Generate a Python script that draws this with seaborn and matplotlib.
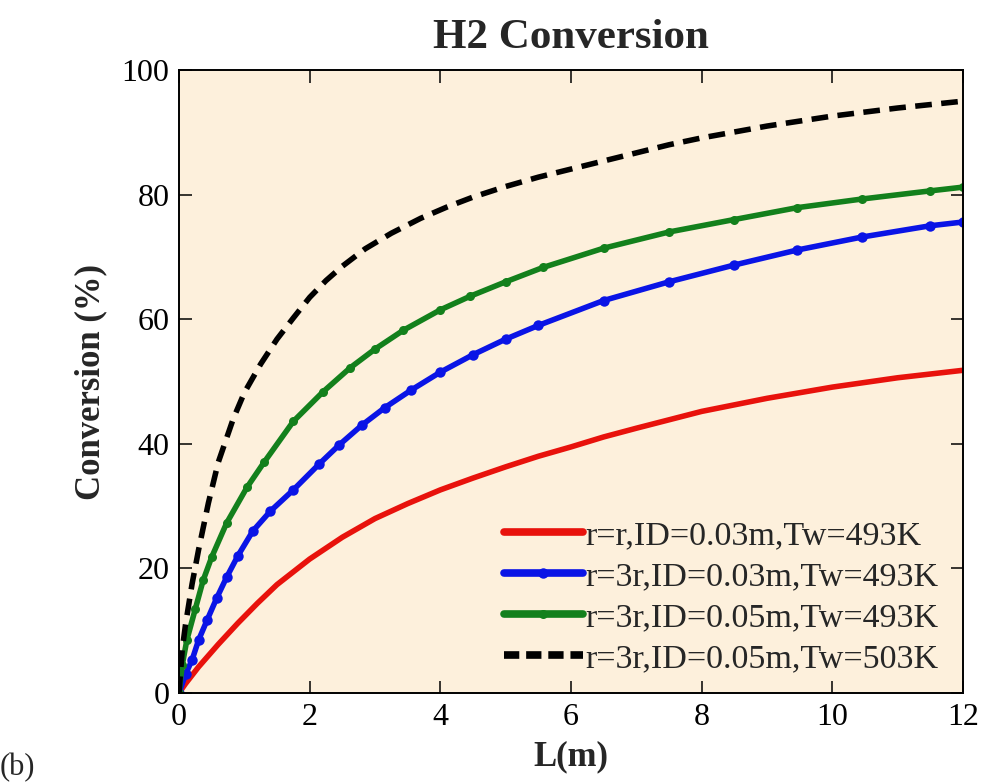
import numpy as np
import pandas as pd
import matplotlib
matplotlib.use("Agg")
import matplotlib.pyplot as plt
import seaborn as sns

# Reactor length (m) and H2 conversion (%) for each case
L_red = [0, 0.1, 0.3, 0.6, 0.9, 1.2, 1.5, 2.0, 2.5, 3.0, 3.5, 4.0, 4.5, 5.0,
         5.5, 6.0, 6.5, 7.0, 8.0, 9.0, 10.0, 11.0, 12.0]
X_red = [0, 1.5, 4.2, 7.8, 11.2, 14.4, 17.4, 21.5, 25.0, 28.0, 30.4, 32.6, 34.5, 36.3,
         38.0, 39.5, 41.1, 42.5, 45.2, 47.3, 49.1, 50.6, 51.8]

L_blue = [0, 0.1, 0.2, 0.3, 0.43, 0.58, 0.73, 0.9, 1.13, 1.4, 1.75, 2.15, 2.45,
          2.8, 3.15, 3.55, 4.0, 4.5, 5.0, 5.5, 6.5, 7.5, 8.5, 9.46, 10.46, 11.5, 12.0]
X_blue = [0, 3.0, 5.3, 8.5, 11.7, 15.3, 18.6, 22.0, 26.0, 29.2, 32.6, 36.8, 39.8,
          43.0, 45.8, 48.6, 51.5, 54.3, 56.8, 59.0, 63.0, 66.0, 68.7, 71.1, 73.2, 75.0, 75.6]

L_green = [0, 0.05, 0.12, 0.25, 0.37, 0.5, 0.73, 1.04, 1.3, 1.75, 2.2, 2.62, 3.0,
           3.43, 4.0, 4.46, 5.0, 5.57, 6.5, 7.5, 8.5, 9.46, 10.46, 11.5, 12.0]
X_green = [0, 4.5, 8.5, 13.5, 18.1, 21.8, 27.3, 33.0, 37.0, 43.6, 48.3, 52.2, 55.2,
           58.2, 61.5, 63.7, 66.0, 68.3, 71.4, 74.0, 76.0, 77.9, 79.3, 80.6, 81.2]

L_black = [0, 0.05, 0.1, 0.2, 0.3, 0.45, 0.6, 0.83, 1.0, 1.25, 1.5, 1.75, 2.0,
           2.25, 2.5, 2.85, 3.25, 3.7, 4.1, 4.5, 5.0, 5.5, 6.0, 6.5, 7.0, 7.5,
           8.0, 9.0, 10.0, 11.0, 12.0]
X_black = [0, 7.0, 11.0, 17.5, 23.0, 30.5, 37.0, 44.0, 48.2, 52.8, 56.8, 60.2, 63.5,
           66.2, 68.5, 71.3, 73.8, 76.2, 78.0, 79.6, 81.3, 82.8, 84.1, 85.4, 86.7, 88.0,
           89.1, 91.0, 92.6, 93.9, 95.0]

labels = ["r=r,ID=0.03m,Tw=493K", "r=3r,ID=0.03m,Tw=493K",
          "r=3r,ID=0.05m,Tw=493K", "r=3r,ID=0.05m,Tw=503K"]

x_ticks = [0, 2, 4, 6, 8, 10, 12]
y_ticks = [0, 20, 40, 60, 80, 100]

sns.set_style("ticks")
plt.rcParams["font.family"] = ["Liberation Serif", "DejaVu Serif"]

fig = plt.figure(figsize=(9.84, 7.84), dpi=100)
ax = fig.add_axes([179 / 984, 1 - 693 / 784, (963 - 179) / 984, (693 - 70) / 784])
ax.set_facecolor("#fdf0dc")

lw = 4.0
sns.lineplot(x=L_red, y=X_red, ax=ax, color="#e8120c", lw=lw, label=labels[0],
             sort=False, estimator=None)
sns.lineplot(x=L_blue, y=X_blue, ax=ax, color="#0a14e6", lw=lw, marker="o",
             markersize=7.5, markeredgewidth=0, label=labels[1], sort=False, estimator=None)
sns.lineplot(x=L_green, y=X_green, ax=ax, color="#13801c", lw=lw, marker="o",
             markersize=6.5, markeredgewidth=0, label=labels[2], sort=False, estimator=None)
sns.lineplot(x=L_black, y=X_black, ax=ax, color="black", lw=lw, label=labels[3],
             sort=False, estimator=None)
black_line = ax.get_lines()[-1]
black_line.set_dashes((3.0, 1.7))
black_line.set_dash_capstyle("butt")

ax.set_xlim(0, 12)
ax.set_ylim(0, 100)
ax.set_xticks(x_ticks)
ax.set_yticks(y_ticks)
ax.tick_params(direction="in", length=9, width=1.1, labelsize=23, pad=7,
               top=True, right=True, colors="black")
for s in ax.spines.values():
    s.set_linewidth(1.4)
    s.set_color("black")

ax.set_title("H2 Conversion", fontsize=31, fontweight="bold", pad=16)
ax.set_xlabel("L(m)", fontsize=25, fontweight="bold", labelpad=6)
ax.set_ylabel("Conversion (%)", fontsize=25, fontweight="bold", labelpad=10)

leg = ax.legend(loc="lower right", bbox_to_anchor=(0.986, 0.008), frameon=False,
                fontsize=24.5, handlelength=2.3, handletextpad=0.08, labelspacing=0.3,
                borderaxespad=0)
for h in leg.get_lines():
    h.set_linewidth(5.5)
leg.get_lines()[3].set_dashes((2.0, 0.9))

fig.text(0.0, 1 - 768 / 784, "(b)", fontsize=22, ha="left", va="center")

fig.savefig("out.png", dpi=100, facecolor="white")
